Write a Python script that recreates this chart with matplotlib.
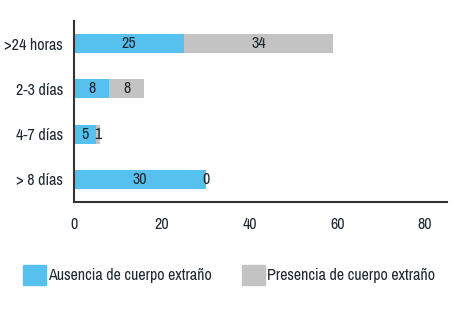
import matplotlib.pyplot as plt
import matplotlib.patches as mpatches
import numpy as np
from matplotlib import font_manager

# Datos
categorias = ['>24 horas', '2-3 días', '4-7 días', '> 8 días']
ausencia = [25, 8, 5, 30]
presencia = [34, 8, 1, 0]
ticks_x = [0, 20, 40, 60, 80]

# buscar una fuente estrecha (tipo Arial Narrow) si existe
estrechas = [f.fname for f in font_manager.fontManager.ttflist
             if ('Narrow' in f.fname or 'Condensed' in f.fname)
             and 'Bold' not in f.fname and 'Oblique' not in f.fname
             and 'Italic' not in f.fname]
if estrechas:
    estrechas.sort(key=lambda n: (0 if 'Narrow' in n else 1, n))
    fp = font_manager.FontProperties(fname=estrechas[0], size=11.5)
    tam = 11.5
else:
    fp = font_manager.FontProperties(family='Liberation Sans', size=9.5)
    tam = 9.5

azul = '#56c1ee'
gris = '#c3c3c3'
texto = '#1f2933'

fig = plt.figure(figsize=(4.63, 3.10), dpi=100)
ax = fig.add_axes([74/463, 1 - 202/310, (447-74)/463, (202-21)/310])

y = np.arange(len(categorias))
alto = 0.42
ax.barh(y, ausencia, height=alto, color=azul)
ax.barh(y, presencia, height=alto, left=ausencia, color=gris)

for i in range(len(categorias)):
    ax.text(ausencia[i] / 2, y[i], str(ausencia[i]), ha='center', va='center',
            fontproperties=fp, color=texto)
    ax.text(ausencia[i] + presencia[i] / 2, y[i], str(presencia[i]), ha='center',
            va='center', fontproperties=fp, color=texto)

ax.set_xlim(0, 85)
ax.set_ylim(3.5, -0.5)
ax.set_yticks(y)
ax.set_yticklabels(categorias, fontproperties=fp, color=texto)
ax.set_xticks(ticks_x)
ax.set_xticklabels([str(t) for t in ticks_x], fontproperties=fp, color=texto)
ax.tick_params(length=0)
ax.tick_params(axis='x', pad=11)
ax.tick_params(axis='y', pad=8)
for lado in ['top', 'right']:
    ax.spines[lado].set_visible(False)
for lado in ['left', 'bottom']:
    ax.spines[lado].set_color('#333333')
    ax.spines[lado].set_linewidth(1.5)

px = tam * 100 / 72
h1 = mpatches.Patch(color=azul, label='Ausencia de cuerpo extraño')
h2 = mpatches.Patch(color=gris, label='Presencia de cuerpo extraño')
fig.legend(handles=[h1, h2], loc='center left', bbox_to_anchor=(23/463, 1 - 275/310),
           ncol=2, frameon=False, prop=fp, handlelength=23/px,
           handleheight=24/px, handletextpad=0.12, columnspacing=1.9,
           borderpad=0, borderaxespad=0, labelcolor=texto)

plt.savefig('out.png', dpi=100)
